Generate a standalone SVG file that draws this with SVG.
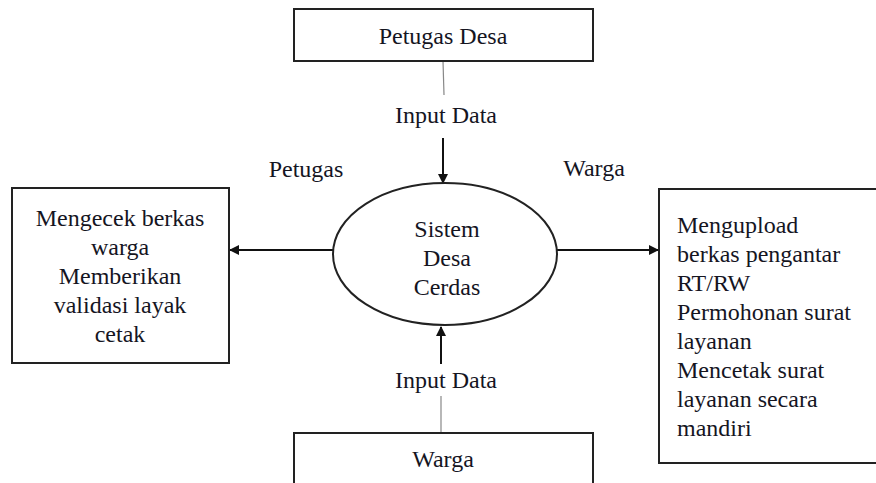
<svg xmlns="http://www.w3.org/2000/svg" width="876" height="483" viewBox="0 0 876 483">
<style>
text{font-family:"Liberation Serif","Times New Roman",serif;font-size:24px;fill:#15151f}
.c{text-anchor:middle}
.box{fill:#fff;stroke:#222;stroke-width:2}
.arr{stroke:#111;stroke-width:2;fill:none;marker-end:url(#ah)}
.thin{stroke:#888;stroke-width:1.2;fill:none}
</style>
<defs>
<marker id="ah" markerWidth="10" markerHeight="10" refX="9" refY="5" orient="auto" markerUnits="userSpaceOnUse">
<path d="M0,0 L10,5 L0,10 Z" fill="#111"/>
</marker>
</defs>
<rect width="876" height="483" fill="#fff"/>
<g id="connectors">
<line class="thin" x1="443" y1="61" x2="444" y2="95"/>
<line class="arr" x1="443" y1="138" x2="443" y2="183"/>
<line class="arr" x1="441" y1="364" x2="441" y2="327"/>
<line class="thin" x1="441" y1="396" x2="441" y2="433"/>
<line class="arr" x1="333" y1="250" x2="230" y2="250"/>
<line class="arr" x1="557" y1="250" x2="658" y2="250"/>
<text class="c" x="446" y="123">Input Data</text>
<text class="c" x="446" y="388">Input Data</text>
<text class="c" x="306" y="177">Petugas</text>
<text class="c" x="594" y="176">Warga</text>
</g>
<g id="petugas-desa">
<rect class="box" x="294" y="9" width="299" height="52"/>
<text class="c" x="443" y="44">Petugas Desa</text>
</g>
<g id="sistem">
<ellipse cx="445" cy="254" rx="112" ry="71" fill="#fff" stroke="#222" stroke-width="2"/>
<text class="c" x="447" y="237">Sistem</text>
<text class="c" x="447" y="266">Desa</text>
<text class="c" x="447" y="295">Cerdas</text>
</g>
<g id="warga">
<rect class="box" x="294" y="433" width="299" height="60"/>
<text class="c" x="443" y="467">Warga</text>
</g>
<g id="petugas-tugas">
<rect class="box" x="12" y="188" width="217" height="175"/>
<text class="c" x="120" y="226">Mengecek berkas</text>
<text class="c" x="120" y="255">warga</text>
<text class="c" x="120" y="284">Memberikan</text>
<text class="c" x="120" y="313">validasi layak</text>
<text class="c" x="120" y="342">cetak</text>
</g>
<g id="warga-tugas">
<rect class="box" x="659" y="189" width="230" height="274"/>
<text x="677" y="233">Mengupload</text>
<text x="677" y="262">berkas pengantar</text>
<text x="677" y="291">RT/RW</text>
<text x="677" y="320">Permohonan surat</text>
<text x="677" y="349">layanan</text>
<text x="677" y="378">Mencetak surat</text>
<text x="677" y="407">layanan secara</text>
<text x="677" y="436">mandiri</text>
</g>
</svg>
